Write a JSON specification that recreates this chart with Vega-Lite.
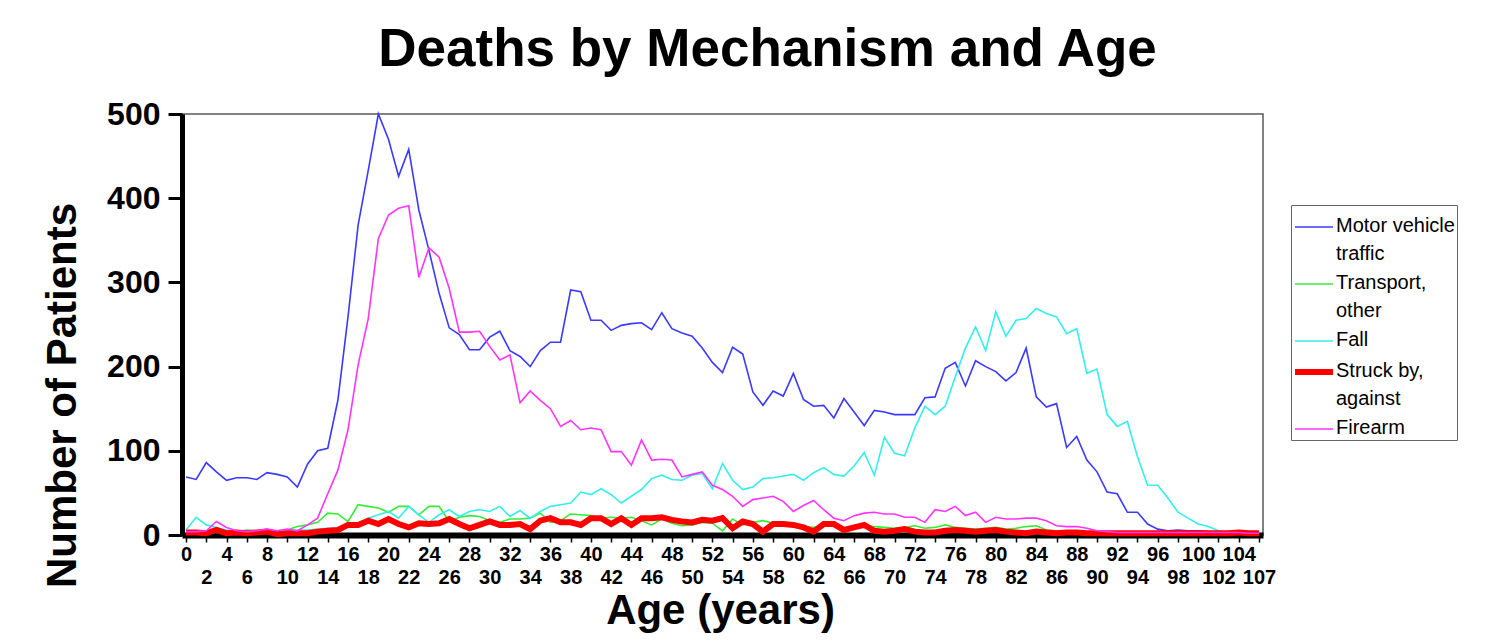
{
"$schema": "https://vega.github.io/schema/vega-lite/v6.json",
"width": 1081,
"height": 421,
"autosize": {"type": "none"},
"padding": {"left": 182, "top": 114, "right": 244, "bottom": 106},
"background": "white",
"title": {"text": "Deaths by Mechanism and Age", "font": "Liberation Sans", "fontSize": 53, "fontWeight": "bold", "color": "black", "anchor": "middle", "frame": "group", "dx": 45, "dy": 50, "offset": 29, "baseline": "alphabetic"},
"config": {
  "view": {"stroke": "#5a5a5a", "strokeWidth": 1.5},
  "axis": {"domainColor": "black", "tickColor": "black", "labelColor": "black", "titleColor": "black", "labelFont": "Liberation Sans", "titleFont": "Liberation Sans", "grid": false}
},
"datasets": {
"deaths": [
{"age":0,"mechanism":"Motor vehicle traffic","deaths":69},{"age":1,"mechanism":"Motor vehicle traffic","deaths":66},{"age":2,"mechanism":"Motor vehicle traffic","deaths":86},{"age":3,"mechanism":"Motor vehicle traffic","deaths":75},{"age":4,"mechanism":"Motor vehicle traffic","deaths":65},{"age":5,"mechanism":"Motor vehicle traffic","deaths":68},{"age":6,"mechanism":"Motor vehicle traffic","deaths":68},{"age":7,"mechanism":"Motor vehicle traffic","deaths":66},{"age":8,"mechanism":"Motor vehicle traffic","deaths":74},{"age":9,"mechanism":"Motor vehicle traffic","deaths":72},
{"age":10,"mechanism":"Motor vehicle traffic","deaths":69},{"age":11,"mechanism":"Motor vehicle traffic","deaths":57},{"age":12,"mechanism":"Motor vehicle traffic","deaths":84},{"age":13,"mechanism":"Motor vehicle traffic","deaths":100},{"age":14,"mechanism":"Motor vehicle traffic","deaths":103},{"age":15,"mechanism":"Motor vehicle traffic","deaths":160},{"age":16,"mechanism":"Motor vehicle traffic","deaths":259},{"age":17,"mechanism":"Motor vehicle traffic","deaths":368},{"age":18,"mechanism":"Motor vehicle traffic","deaths":433},{"age":19,"mechanism":"Motor vehicle traffic","deaths":500},
{"age":20,"mechanism":"Motor vehicle traffic","deaths":470},{"age":21,"mechanism":"Motor vehicle traffic","deaths":426},{"age":22,"mechanism":"Motor vehicle traffic","deaths":458},{"age":23,"mechanism":"Motor vehicle traffic","deaths":386},{"age":24,"mechanism":"Motor vehicle traffic","deaths":338},{"age":25,"mechanism":"Motor vehicle traffic","deaths":287},{"age":26,"mechanism":"Motor vehicle traffic","deaths":246},{"age":27,"mechanism":"Motor vehicle traffic","deaths":238},{"age":28,"mechanism":"Motor vehicle traffic","deaths":220},{"age":29,"mechanism":"Motor vehicle traffic","deaths":220},
{"age":30,"mechanism":"Motor vehicle traffic","deaths":235},{"age":31,"mechanism":"Motor vehicle traffic","deaths":242},{"age":32,"mechanism":"Motor vehicle traffic","deaths":219},{"age":33,"mechanism":"Motor vehicle traffic","deaths":212},{"age":34,"mechanism":"Motor vehicle traffic","deaths":200},{"age":35,"mechanism":"Motor vehicle traffic","deaths":219},{"age":36,"mechanism":"Motor vehicle traffic","deaths":229},{"age":37,"mechanism":"Motor vehicle traffic","deaths":229},{"age":38,"mechanism":"Motor vehicle traffic","deaths":291},{"age":39,"mechanism":"Motor vehicle traffic","deaths":289},
{"age":40,"mechanism":"Motor vehicle traffic","deaths":255},{"age":41,"mechanism":"Motor vehicle traffic","deaths":255},{"age":42,"mechanism":"Motor vehicle traffic","deaths":243},{"age":43,"mechanism":"Motor vehicle traffic","deaths":249},{"age":44,"mechanism":"Motor vehicle traffic","deaths":251},{"age":45,"mechanism":"Motor vehicle traffic","deaths":252},{"age":46,"mechanism":"Motor vehicle traffic","deaths":244},{"age":47,"mechanism":"Motor vehicle traffic","deaths":264},{"age":48,"mechanism":"Motor vehicle traffic","deaths":245},{"age":49,"mechanism":"Motor vehicle traffic","deaths":240},
{"age":50,"mechanism":"Motor vehicle traffic","deaths":236},{"age":51,"mechanism":"Motor vehicle traffic","deaths":222},{"age":52,"mechanism":"Motor vehicle traffic","deaths":205},{"age":53,"mechanism":"Motor vehicle traffic","deaths":193},{"age":54,"mechanism":"Motor vehicle traffic","deaths":223},{"age":55,"mechanism":"Motor vehicle traffic","deaths":215},{"age":56,"mechanism":"Motor vehicle traffic","deaths":170},{"age":57,"mechanism":"Motor vehicle traffic","deaths":154},{"age":58,"mechanism":"Motor vehicle traffic","deaths":171},{"age":59,"mechanism":"Motor vehicle traffic","deaths":165},
{"age":60,"mechanism":"Motor vehicle traffic","deaths":192},{"age":61,"mechanism":"Motor vehicle traffic","deaths":161},{"age":62,"mechanism":"Motor vehicle traffic","deaths":153},{"age":63,"mechanism":"Motor vehicle traffic","deaths":154},{"age":64,"mechanism":"Motor vehicle traffic","deaths":139},{"age":65,"mechanism":"Motor vehicle traffic","deaths":162},{"age":66,"mechanism":"Motor vehicle traffic","deaths":146},{"age":67,"mechanism":"Motor vehicle traffic","deaths":130},{"age":68,"mechanism":"Motor vehicle traffic","deaths":148},{"age":69,"mechanism":"Motor vehicle traffic","deaths":146},
{"age":70,"mechanism":"Motor vehicle traffic","deaths":143},{"age":71,"mechanism":"Motor vehicle traffic","deaths":143},{"age":72,"mechanism":"Motor vehicle traffic","deaths":143},{"age":73,"mechanism":"Motor vehicle traffic","deaths":163},{"age":74,"mechanism":"Motor vehicle traffic","deaths":164},{"age":75,"mechanism":"Motor vehicle traffic","deaths":198},{"age":76,"mechanism":"Motor vehicle traffic","deaths":205},{"age":77,"mechanism":"Motor vehicle traffic","deaths":177},{"age":78,"mechanism":"Motor vehicle traffic","deaths":207},{"age":79,"mechanism":"Motor vehicle traffic","deaths":200},
{"age":80,"mechanism":"Motor vehicle traffic","deaths":194},{"age":81,"mechanism":"Motor vehicle traffic","deaths":183},{"age":82,"mechanism":"Motor vehicle traffic","deaths":193},{"age":83,"mechanism":"Motor vehicle traffic","deaths":222},{"age":84,"mechanism":"Motor vehicle traffic","deaths":164},{"age":85,"mechanism":"Motor vehicle traffic","deaths":152},{"age":86,"mechanism":"Motor vehicle traffic","deaths":156},{"age":87,"mechanism":"Motor vehicle traffic","deaths":104},{"age":88,"mechanism":"Motor vehicle traffic","deaths":117},{"age":89,"mechanism":"Motor vehicle traffic","deaths":89},
{"age":90,"mechanism":"Motor vehicle traffic","deaths":75},{"age":91,"mechanism":"Motor vehicle traffic","deaths":51},{"age":92,"mechanism":"Motor vehicle traffic","deaths":49},{"age":93,"mechanism":"Motor vehicle traffic","deaths":27},{"age":94,"mechanism":"Motor vehicle traffic","deaths":27},{"age":95,"mechanism":"Motor vehicle traffic","deaths":13},{"age":96,"mechanism":"Motor vehicle traffic","deaths":7},{"age":97,"mechanism":"Motor vehicle traffic","deaths":5},{"age":98,"mechanism":"Motor vehicle traffic","deaths":6},{"age":99,"mechanism":"Motor vehicle traffic","deaths":5},
{"age":100,"mechanism":"Motor vehicle traffic","deaths":5},{"age":101,"mechanism":"Motor vehicle traffic","deaths":4},{"age":102,"mechanism":"Motor vehicle traffic","deaths":3},{"age":103,"mechanism":"Motor vehicle traffic","deaths":3},{"age":104,"mechanism":"Motor vehicle traffic","deaths":3},{"age":105,"mechanism":"Motor vehicle traffic","deaths":2},{"age":107,"mechanism":"Motor vehicle traffic","deaths":1},

{"age":0,"mechanism":"Transport, other","deaths":2},{"age":1,"mechanism":"Transport, other","deaths":3},{"age":2,"mechanism":"Transport, other","deaths":3},{"age":3,"mechanism":"Transport, other","deaths":3},{"age":4,"mechanism":"Transport, other","deaths":3},{"age":5,"mechanism":"Transport, other","deaths":4},{"age":6,"mechanism":"Transport, other","deaths":6},{"age":7,"mechanism":"Transport, other","deaths":5},{"age":8,"mechanism":"Transport, other","deaths":6},{"age":9,"mechanism":"Transport, other","deaths":5},
{"age":10,"mechanism":"Transport, other","deaths":6},{"age":11,"mechanism":"Transport, other","deaths":10},{"age":12,"mechanism":"Transport, other","deaths":12},{"age":13,"mechanism":"Transport, other","deaths":15},{"age":14,"mechanism":"Transport, other","deaths":26},{"age":15,"mechanism":"Transport, other","deaths":25},{"age":16,"mechanism":"Transport, other","deaths":16},{"age":17,"mechanism":"Transport, other","deaths":36},{"age":18,"mechanism":"Transport, other","deaths":34},{"age":19,"mechanism":"Transport, other","deaths":32},
{"age":20,"mechanism":"Transport, other","deaths":27},{"age":21,"mechanism":"Transport, other","deaths":34},{"age":22,"mechanism":"Transport, other","deaths":34},{"age":23,"mechanism":"Transport, other","deaths":24},{"age":24,"mechanism":"Transport, other","deaths":34},{"age":25,"mechanism":"Transport, other","deaths":34},{"age":26,"mechanism":"Transport, other","deaths":16},{"age":27,"mechanism":"Transport, other","deaths":21},{"age":28,"mechanism":"Transport, other","deaths":23},{"age":29,"mechanism":"Transport, other","deaths":22},
{"age":30,"mechanism":"Transport, other","deaths":17},{"age":31,"mechanism":"Transport, other","deaths":15},{"age":32,"mechanism":"Transport, other","deaths":19},{"age":33,"mechanism":"Transport, other","deaths":19},{"age":34,"mechanism":"Transport, other","deaths":20},{"age":35,"mechanism":"Transport, other","deaths":26},{"age":36,"mechanism":"Transport, other","deaths":15},{"age":37,"mechanism":"Transport, other","deaths":17},{"age":38,"mechanism":"Transport, other","deaths":25},{"age":39,"mechanism":"Transport, other","deaths":24},
{"age":40,"mechanism":"Transport, other","deaths":23},{"age":41,"mechanism":"Transport, other","deaths":20},{"age":42,"mechanism":"Transport, other","deaths":21},{"age":43,"mechanism":"Transport, other","deaths":20},{"age":44,"mechanism":"Transport, other","deaths":21},{"age":45,"mechanism":"Transport, other","deaths":17},{"age":46,"mechanism":"Transport, other","deaths":12},{"age":47,"mechanism":"Transport, other","deaths":19},{"age":48,"mechanism":"Transport, other","deaths":14},{"age":49,"mechanism":"Transport, other","deaths":11},
{"age":50,"mechanism":"Transport, other","deaths":12},{"age":51,"mechanism":"Transport, other","deaths":15},{"age":52,"mechanism":"Transport, other","deaths":14},{"age":53,"mechanism":"Transport, other","deaths":5},{"age":54,"mechanism":"Transport, other","deaths":19},{"age":55,"mechanism":"Transport, other","deaths":12},{"age":56,"mechanism":"Transport, other","deaths":15},{"age":57,"mechanism":"Transport, other","deaths":17},{"age":58,"mechanism":"Transport, other","deaths":14},{"age":59,"mechanism":"Transport, other","deaths":12},
{"age":60,"mechanism":"Transport, other","deaths":11},{"age":61,"mechanism":"Transport, other","deaths":10},{"age":62,"mechanism":"Transport, other","deaths":9},{"age":63,"mechanism":"Transport, other","deaths":10},{"age":64,"mechanism":"Transport, other","deaths":12},{"age":65,"mechanism":"Transport, other","deaths":6},{"age":66,"mechanism":"Transport, other","deaths":9},{"age":67,"mechanism":"Transport, other","deaths":11},{"age":68,"mechanism":"Transport, other","deaths":10},{"age":69,"mechanism":"Transport, other","deaths":9},
{"age":70,"mechanism":"Transport, other","deaths":8},{"age":71,"mechanism":"Transport, other","deaths":9},{"age":72,"mechanism":"Transport, other","deaths":11},{"age":73,"mechanism":"Transport, other","deaths":8},{"age":74,"mechanism":"Transport, other","deaths":9},{"age":75,"mechanism":"Transport, other","deaths":12},{"age":76,"mechanism":"Transport, other","deaths":9},{"age":77,"mechanism":"Transport, other","deaths":8},{"age":78,"mechanism":"Transport, other","deaths":7},{"age":79,"mechanism":"Transport, other","deaths":8},
{"age":80,"mechanism":"Transport, other","deaths":9},{"age":81,"mechanism":"Transport, other","deaths":7},{"age":82,"mechanism":"Transport, other","deaths":8},{"age":83,"mechanism":"Transport, other","deaths":10},{"age":84,"mechanism":"Transport, other","deaths":11},{"age":85,"mechanism":"Transport, other","deaths":6},{"age":86,"mechanism":"Transport, other","deaths":5},{"age":87,"mechanism":"Transport, other","deaths":4},{"age":88,"mechanism":"Transport, other","deaths":4},{"age":89,"mechanism":"Transport, other","deaths":3},
{"age":90,"mechanism":"Transport, other","deaths":2},{"age":91,"mechanism":"Transport, other","deaths":2},{"age":92,"mechanism":"Transport, other","deaths":2},{"age":93,"mechanism":"Transport, other","deaths":2},{"age":94,"mechanism":"Transport, other","deaths":2},{"age":95,"mechanism":"Transport, other","deaths":2},{"age":96,"mechanism":"Transport, other","deaths":2},{"age":97,"mechanism":"Transport, other","deaths":2},{"age":98,"mechanism":"Transport, other","deaths":2},{"age":99,"mechanism":"Transport, other","deaths":2},
{"age":100,"mechanism":"Transport, other","deaths":2},{"age":101,"mechanism":"Transport, other","deaths":2},{"age":102,"mechanism":"Transport, other","deaths":2},{"age":103,"mechanism":"Transport, other","deaths":2},{"age":104,"mechanism":"Transport, other","deaths":2},{"age":105,"mechanism":"Transport, other","deaths":1},{"age":107,"mechanism":"Transport, other","deaths":1},

{"age":0,"mechanism":"Fall","deaths":6},{"age":1,"mechanism":"Fall","deaths":21},{"age":2,"mechanism":"Fall","deaths":12},{"age":3,"mechanism":"Fall","deaths":9},{"age":4,"mechanism":"Fall","deaths":6},{"age":5,"mechanism":"Fall","deaths":4},{"age":6,"mechanism":"Fall","deaths":4},{"age":7,"mechanism":"Fall","deaths":4},{"age":8,"mechanism":"Fall","deaths":5},{"age":9,"mechanism":"Fall","deaths":4},
{"age":10,"mechanism":"Fall","deaths":5},{"age":11,"mechanism":"Fall","deaths":6},{"age":12,"mechanism":"Fall","deaths":6},{"age":13,"mechanism":"Fall","deaths":7},{"age":14,"mechanism":"Fall","deaths":8},{"age":15,"mechanism":"Fall","deaths":8},{"age":16,"mechanism":"Fall","deaths":10},{"age":17,"mechanism":"Fall","deaths":12},{"age":18,"mechanism":"Fall","deaths":20},{"age":19,"mechanism":"Fall","deaths":24},
{"age":20,"mechanism":"Fall","deaths":28},{"age":21,"mechanism":"Fall","deaths":20},{"age":22,"mechanism":"Fall","deaths":34},{"age":23,"mechanism":"Fall","deaths":24},{"age":24,"mechanism":"Fall","deaths":15},{"age":25,"mechanism":"Fall","deaths":24},{"age":26,"mechanism":"Fall","deaths":30},{"age":27,"mechanism":"Fall","deaths":22},{"age":28,"mechanism":"Fall","deaths":28},{"age":29,"mechanism":"Fall","deaths":30},
{"age":30,"mechanism":"Fall","deaths":28},{"age":31,"mechanism":"Fall","deaths":34},{"age":32,"mechanism":"Fall","deaths":22},{"age":33,"mechanism":"Fall","deaths":29},{"age":34,"mechanism":"Fall","deaths":20},{"age":35,"mechanism":"Fall","deaths":28},{"age":36,"mechanism":"Fall","deaths":34},{"age":37,"mechanism":"Fall","deaths":36},{"age":38,"mechanism":"Fall","deaths":38},{"age":39,"mechanism":"Fall","deaths":51},
{"age":40,"mechanism":"Fall","deaths":48},{"age":41,"mechanism":"Fall","deaths":55},{"age":42,"mechanism":"Fall","deaths":48},{"age":43,"mechanism":"Fall","deaths":38},{"age":44,"mechanism":"Fall","deaths":46},{"age":45,"mechanism":"Fall","deaths":54},{"age":46,"mechanism":"Fall","deaths":67},{"age":47,"mechanism":"Fall","deaths":71},{"age":48,"mechanism":"Fall","deaths":66},{"age":49,"mechanism":"Fall","deaths":65},
{"age":50,"mechanism":"Fall","deaths":71},{"age":51,"mechanism":"Fall","deaths":73},{"age":52,"mechanism":"Fall","deaths":55},{"age":53,"mechanism":"Fall","deaths":85},{"age":54,"mechanism":"Fall","deaths":65},{"age":55,"mechanism":"Fall","deaths":54},{"age":56,"mechanism":"Fall","deaths":57},{"age":57,"mechanism":"Fall","deaths":67},{"age":58,"mechanism":"Fall","deaths":68},{"age":59,"mechanism":"Fall","deaths":70},
{"age":60,"mechanism":"Fall","deaths":72},{"age":61,"mechanism":"Fall","deaths":65},{"age":62,"mechanism":"Fall","deaths":74},{"age":63,"mechanism":"Fall","deaths":80},{"age":64,"mechanism":"Fall","deaths":72},{"age":65,"mechanism":"Fall","deaths":70},{"age":66,"mechanism":"Fall","deaths":82},{"age":67,"mechanism":"Fall","deaths":98},{"age":68,"mechanism":"Fall","deaths":71},{"age":69,"mechanism":"Fall","deaths":116},
{"age":70,"mechanism":"Fall","deaths":97},{"age":71,"mechanism":"Fall","deaths":94},{"age":72,"mechanism":"Fall","deaths":127},{"age":73,"mechanism":"Fall","deaths":153},{"age":74,"mechanism":"Fall","deaths":143},{"age":75,"mechanism":"Fall","deaths":153},{"age":76,"mechanism":"Fall","deaths":188},{"age":77,"mechanism":"Fall","deaths":222},{"age":78,"mechanism":"Fall","deaths":247},{"age":79,"mechanism":"Fall","deaths":219},
{"age":80,"mechanism":"Fall","deaths":265},{"age":81,"mechanism":"Fall","deaths":236},{"age":82,"mechanism":"Fall","deaths":255},{"age":83,"mechanism":"Fall","deaths":257},{"age":84,"mechanism":"Fall","deaths":269},{"age":85,"mechanism":"Fall","deaths":263},{"age":86,"mechanism":"Fall","deaths":259},{"age":87,"mechanism":"Fall","deaths":239},{"age":88,"mechanism":"Fall","deaths":245},{"age":89,"mechanism":"Fall","deaths":192},
{"age":90,"mechanism":"Fall","deaths":197},{"age":91,"mechanism":"Fall","deaths":143},{"age":92,"mechanism":"Fall","deaths":129},{"age":93,"mechanism":"Fall","deaths":135},{"age":94,"mechanism":"Fall","deaths":93},{"age":95,"mechanism":"Fall","deaths":59},{"age":96,"mechanism":"Fall","deaths":59},{"age":97,"mechanism":"Fall","deaths":44},{"age":98,"mechanism":"Fall","deaths":27},{"age":99,"mechanism":"Fall","deaths":20},
{"age":100,"mechanism":"Fall","deaths":13},{"age":101,"mechanism":"Fall","deaths":10},{"age":102,"mechanism":"Fall","deaths":5},{"age":103,"mechanism":"Fall","deaths":3},{"age":104,"mechanism":"Fall","deaths":3},{"age":105,"mechanism":"Fall","deaths":2},{"age":107,"mechanism":"Fall","deaths":1},

{"age":0,"mechanism":"Struck by, against","deaths":3},{"age":1,"mechanism":"Struck by, against","deaths":3},{"age":2,"mechanism":"Struck by, against","deaths":2},{"age":3,"mechanism":"Struck by, against","deaths":6},{"age":4,"mechanism":"Struck by, against","deaths":2},{"age":5,"mechanism":"Struck by, against","deaths":3},{"age":6,"mechanism":"Struck by, against","deaths":2},{"age":7,"mechanism":"Struck by, against","deaths":3},{"age":8,"mechanism":"Struck by, against","deaths":4},{"age":9,"mechanism":"Struck by, against","deaths":1},
{"age":10,"mechanism":"Struck by, against","deaths":2},{"age":11,"mechanism":"Struck by, against","deaths":2},{"age":12,"mechanism":"Struck by, against","deaths":2},{"age":13,"mechanism":"Struck by, against","deaths":4},{"age":14,"mechanism":"Struck by, against","deaths":5},{"age":15,"mechanism":"Struck by, against","deaths":6},{"age":16,"mechanism":"Struck by, against","deaths":12},{"age":17,"mechanism":"Struck by, against","deaths":12},{"age":18,"mechanism":"Struck by, against","deaths":17},{"age":19,"mechanism":"Struck by, against","deaths":13},
{"age":20,"mechanism":"Struck by, against","deaths":19},{"age":21,"mechanism":"Struck by, against","deaths":13},{"age":22,"mechanism":"Struck by, against","deaths":9},{"age":23,"mechanism":"Struck by, against","deaths":14},{"age":24,"mechanism":"Struck by, against","deaths":13},{"age":25,"mechanism":"Struck by, against","deaths":14},{"age":26,"mechanism":"Struck by, against","deaths":19},{"age":27,"mechanism":"Struck by, against","deaths":13},{"age":28,"mechanism":"Struck by, against","deaths":8},{"age":29,"mechanism":"Struck by, against","deaths":12},
{"age":30,"mechanism":"Struck by, against","deaths":16},{"age":31,"mechanism":"Struck by, against","deaths":12},{"age":32,"mechanism":"Struck by, against","deaths":12},{"age":33,"mechanism":"Struck by, against","deaths":13},{"age":34,"mechanism":"Struck by, against","deaths":7},{"age":35,"mechanism":"Struck by, against","deaths":17},{"age":36,"mechanism":"Struck by, against","deaths":20},{"age":37,"mechanism":"Struck by, against","deaths":15},{"age":38,"mechanism":"Struck by, against","deaths":15},{"age":39,"mechanism":"Struck by, against","deaths":12},
{"age":40,"mechanism":"Struck by, against","deaths":20},{"age":41,"mechanism":"Struck by, against","deaths":20},{"age":42,"mechanism":"Struck by, against","deaths":13},{"age":43,"mechanism":"Struck by, against","deaths":20},{"age":44,"mechanism":"Struck by, against","deaths":12},{"age":45,"mechanism":"Struck by, against","deaths":20},{"age":46,"mechanism":"Struck by, against","deaths":20},{"age":47,"mechanism":"Struck by, against","deaths":21},{"age":48,"mechanism":"Struck by, against","deaths":18},{"age":49,"mechanism":"Struck by, against","deaths":16},
{"age":50,"mechanism":"Struck by, against","deaths":15},{"age":51,"mechanism":"Struck by, against","deaths":18},{"age":52,"mechanism":"Struck by, against","deaths":17},{"age":53,"mechanism":"Struck by, against","deaths":20},{"age":54,"mechanism":"Struck by, against","deaths":8},{"age":55,"mechanism":"Struck by, against","deaths":16},{"age":56,"mechanism":"Struck by, against","deaths":13},{"age":57,"mechanism":"Struck by, against","deaths":4},{"age":58,"mechanism":"Struck by, against","deaths":13},{"age":59,"mechanism":"Struck by, against","deaths":13},
{"age":60,"mechanism":"Struck by, against","deaths":12},{"age":61,"mechanism":"Struck by, against","deaths":9},{"age":62,"mechanism":"Struck by, against","deaths":4},{"age":63,"mechanism":"Struck by, against","deaths":13},{"age":64,"mechanism":"Struck by, against","deaths":13},{"age":65,"mechanism":"Struck by, against","deaths":6},{"age":66,"mechanism":"Struck by, against","deaths":9},{"age":67,"mechanism":"Struck by, against","deaths":12},{"age":68,"mechanism":"Struck by, against","deaths":5},{"age":69,"mechanism":"Struck by, against","deaths":4},
{"age":70,"mechanism":"Struck by, against","deaths":5},{"age":71,"mechanism":"Struck by, against","deaths":7},{"age":72,"mechanism":"Struck by, against","deaths":4},{"age":73,"mechanism":"Struck by, against","deaths":3},{"age":74,"mechanism":"Struck by, against","deaths":3},{"age":75,"mechanism":"Struck by, against","deaths":5},{"age":76,"mechanism":"Struck by, against","deaths":6},{"age":77,"mechanism":"Struck by, against","deaths":5},{"age":78,"mechanism":"Struck by, against","deaths":4},{"age":79,"mechanism":"Struck by, against","deaths":5},
{"age":80,"mechanism":"Struck by, against","deaths":6},{"age":81,"mechanism":"Struck by, against","deaths":4},{"age":82,"mechanism":"Struck by, against","deaths":3},{"age":83,"mechanism":"Struck by, against","deaths":2},{"age":84,"mechanism":"Struck by, against","deaths":4},{"age":85,"mechanism":"Struck by, against","deaths":3},{"age":86,"mechanism":"Struck by, against","deaths":2},{"age":87,"mechanism":"Struck by, against","deaths":3},{"age":88,"mechanism":"Struck by, against","deaths":3},{"age":89,"mechanism":"Struck by, against","deaths":2},
{"age":90,"mechanism":"Struck by, against","deaths":2},{"age":91,"mechanism":"Struck by, against","deaths":2},{"age":92,"mechanism":"Struck by, against","deaths":2},{"age":93,"mechanism":"Struck by, against","deaths":2},{"age":94,"mechanism":"Struck by, against","deaths":2},{"age":95,"mechanism":"Struck by, against","deaths":2},{"age":96,"mechanism":"Struck by, against","deaths":2},{"age":97,"mechanism":"Struck by, against","deaths":2},{"age":98,"mechanism":"Struck by, against","deaths":2},{"age":99,"mechanism":"Struck by, against","deaths":2},
{"age":100,"mechanism":"Struck by, against","deaths":2},{"age":101,"mechanism":"Struck by, against","deaths":2},{"age":102,"mechanism":"Struck by, against","deaths":2},{"age":103,"mechanism":"Struck by, against","deaths":2},{"age":104,"mechanism":"Struck by, against","deaths":3},{"age":105,"mechanism":"Struck by, against","deaths":2},{"age":107,"mechanism":"Struck by, against","deaths":2},

{"age":0,"mechanism":"Firearm","deaths":4},{"age":1,"mechanism":"Firearm","deaths":4},{"age":2,"mechanism":"Firearm","deaths":5},{"age":3,"mechanism":"Firearm","deaths":16},{"age":4,"mechanism":"Firearm","deaths":9},{"age":5,"mechanism":"Firearm","deaths":5},{"age":6,"mechanism":"Firearm","deaths":4},{"age":7,"mechanism":"Firearm","deaths":5},{"age":8,"mechanism":"Firearm","deaths":7},{"age":9,"mechanism":"Firearm","deaths":5},
{"age":10,"mechanism":"Firearm","deaths":7},{"age":11,"mechanism":"Firearm","deaths":5},{"age":12,"mechanism":"Firearm","deaths":12},{"age":13,"mechanism":"Firearm","deaths":20},{"age":14,"mechanism":"Firearm","deaths":49},{"age":15,"mechanism":"Firearm","deaths":77},{"age":16,"mechanism":"Firearm","deaths":125},{"age":17,"mechanism":"Firearm","deaths":202},{"age":18,"mechanism":"Firearm","deaths":257},{"age":19,"mechanism":"Firearm","deaths":352},
{"age":20,"mechanism":"Firearm","deaths":380},{"age":21,"mechanism":"Firearm","deaths":388},{"age":22,"mechanism":"Firearm","deaths":391},{"age":23,"mechanism":"Firearm","deaths":306},{"age":24,"mechanism":"Firearm","deaths":341},{"age":25,"mechanism":"Firearm","deaths":330},{"age":26,"mechanism":"Firearm","deaths":293},{"age":27,"mechanism":"Firearm","deaths":241},{"age":28,"mechanism":"Firearm","deaths":241},{"age":29,"mechanism":"Firearm","deaths":242},
{"age":30,"mechanism":"Firearm","deaths":224},{"age":31,"mechanism":"Firearm","deaths":208},{"age":32,"mechanism":"Firearm","deaths":214},{"age":33,"mechanism":"Firearm","deaths":157},{"age":34,"mechanism":"Firearm","deaths":171},{"age":35,"mechanism":"Firearm","deaths":160},{"age":36,"mechanism":"Firearm","deaths":150},{"age":37,"mechanism":"Firearm","deaths":129},{"age":38,"mechanism":"Firearm","deaths":136},{"age":39,"mechanism":"Firearm","deaths":125},
{"age":40,"mechanism":"Firearm","deaths":127},{"age":41,"mechanism":"Firearm","deaths":125},{"age":42,"mechanism":"Firearm","deaths":99},{"age":43,"mechanism":"Firearm","deaths":99},{"age":44,"mechanism":"Firearm","deaths":83},{"age":45,"mechanism":"Firearm","deaths":113},{"age":46,"mechanism":"Firearm","deaths":89},{"age":47,"mechanism":"Firearm","deaths":90},{"age":48,"mechanism":"Firearm","deaths":89},{"age":49,"mechanism":"Firearm","deaths":69},
{"age":50,"mechanism":"Firearm","deaths":72},{"age":51,"mechanism":"Firearm","deaths":75},{"age":52,"mechanism":"Firearm","deaths":59},{"age":53,"mechanism":"Firearm","deaths":54},{"age":54,"mechanism":"Firearm","deaths":46},{"age":55,"mechanism":"Firearm","deaths":34},{"age":56,"mechanism":"Firearm","deaths":42},{"age":57,"mechanism":"Firearm","deaths":44},{"age":58,"mechanism":"Firearm","deaths":46},{"age":59,"mechanism":"Firearm","deaths":40},
{"age":60,"mechanism":"Firearm","deaths":28},{"age":61,"mechanism":"Firearm","deaths":35},{"age":62,"mechanism":"Firearm","deaths":41},{"age":63,"mechanism":"Firearm","deaths":30},{"age":64,"mechanism":"Firearm","deaths":20},{"age":65,"mechanism":"Firearm","deaths":17},{"age":66,"mechanism":"Firearm","deaths":23},{"age":67,"mechanism":"Firearm","deaths":26},{"age":68,"mechanism":"Firearm","deaths":27},{"age":69,"mechanism":"Firearm","deaths":25},
{"age":70,"mechanism":"Firearm","deaths":25},{"age":71,"mechanism":"Firearm","deaths":21},{"age":72,"mechanism":"Firearm","deaths":21},{"age":73,"mechanism":"Firearm","deaths":15},{"age":74,"mechanism":"Firearm","deaths":30},{"age":75,"mechanism":"Firearm","deaths":28},{"age":76,"mechanism":"Firearm","deaths":34},{"age":77,"mechanism":"Firearm","deaths":23},{"age":78,"mechanism":"Firearm","deaths":27},{"age":79,"mechanism":"Firearm","deaths":15},
{"age":80,"mechanism":"Firearm","deaths":21},{"age":81,"mechanism":"Firearm","deaths":19},{"age":82,"mechanism":"Firearm","deaths":19},{"age":83,"mechanism":"Firearm","deaths":20},{"age":84,"mechanism":"Firearm","deaths":20},{"age":85,"mechanism":"Firearm","deaths":17},{"age":86,"mechanism":"Firearm","deaths":11},{"age":87,"mechanism":"Firearm","deaths":10},{"age":88,"mechanism":"Firearm","deaths":10},{"age":89,"mechanism":"Firearm","deaths":8},
{"age":90,"mechanism":"Firearm","deaths":5},{"age":91,"mechanism":"Firearm","deaths":4},{"age":92,"mechanism":"Firearm","deaths":3},{"age":93,"mechanism":"Firearm","deaths":3},{"age":94,"mechanism":"Firearm","deaths":3},{"age":95,"mechanism":"Firearm","deaths":3},{"age":96,"mechanism":"Firearm","deaths":3},{"age":97,"mechanism":"Firearm","deaths":3},{"age":98,"mechanism":"Firearm","deaths":3},{"age":99,"mechanism":"Firearm","deaths":3},
{"age":100,"mechanism":"Firearm","deaths":3},{"age":101,"mechanism":"Firearm","deaths":3},{"age":102,"mechanism":"Firearm","deaths":3},{"age":103,"mechanism":"Firearm","deaths":3},{"age":104,"mechanism":"Firearm","deaths":3},{"age":105,"mechanism":"Firearm","deaths":2},{"age":107,"mechanism":"Firearm","deaths":2}
]
},
"data": {"name": "deaths"},
"mark": {"type": "line", "strokeJoin": "miter"},
"encoding": {
  "x": {
    "field": "age", "type": "ordinal", "sort": "ascending",
    "scale": {"type": "point", "padding": 0.4},
    "axis": {
      "values": [0,2,4,6,8,10,12,14,16,18,20,22,24,26,28,30,32,34,36,38,40,42,44,46,48,50,52,54,56,58,60,62,64,66,68,70,72,74,76,78,80,82,84,86,88,90,92,94,96,98,100,102,104,107],
      "labelExpr": "datum.value % 4 == 0 ? datum.label : ['', datum.label]",
      "labelAngle": 0, "labelFontSize": 20, "labelFontWeight": "bold", "labelLineHeight": 23,
      "labelOverlap": false, "labelPadding": 2, "labelBaseline": "top",
      "tickSize": 7, "tickWidth": 1.5, "domainWidth": 6,
      "title": "Age (years)", "titleFontSize": 42, "titleFontWeight": "bold",
      "titleX": 538, "titleY": 88, "titleBaseline": "alphabetic", "titleAnchor": "middle"
    }
  },
  "y": {
    "field": "deaths", "type": "quantitative",
    "scale": {"domain": [0, 500], "nice": false},
    "axis": {
      "values": [0,100,200,300,400,500],
      "labelFontSize": 32, "labelFontWeight": "bold", "labelPadding": 8,
      "tickSize": 14, "tickWidth": 3, "domainWidth": 5,
      "title": "Number of Patients", "titleFontSize": 42, "titleFontWeight": "bold",
      "titleX": -107, "titleY": 281, "titleBaseline": "alphabetic", "titleAngle": -90, "titleAnchor": "middle"
    }
  },
  "color": {
    "field": "mechanism", "type": "nominal",
    "sort": ["Motor vehicle traffic", "Transport, other", "Fall", "Struck by, against", "Firearm"],
    "scale": {"domain": ["Motor vehicle traffic", "Transport, other", "Fall", "Struck by, against", "Firearm"], "range": ["#3a3aff", "#33ee33", "#33eeee", "#ff0000", "#ff33ff"]},
    "legend": {
      "title": null, "orient": "none", "legendX": 1109, "legendY": 91,
      "symbolType": "stroke", "symbolSize": 1444, "symbolOffset": -1,
      "labelFont": "Liberation Sans", "labelFontSize": 20, "labelColor": "black", "labelLimit": 400, "labelOffset": 0,
      "labelBaseline": "top",
      "labelExpr": "datum.label == 'Motor vehicle traffic' ? ['Motor vehicle', 'traffic'] : datum.label == 'Transport, other' ? ['Transport,', 'other'] : datum.label == 'Struck by, against' ? ['Struck by,', 'against'] : datum.label",
      "padding": 2, "rowPadding": -3, "strokeColor": "#666666", "fillColor": "white",
      "encode": {"labels": {"update": {"dy": {"value": -11}, "lineHeight": {"value": 28}}}}
    }
  },
  "strokeWidth": {
    "field": "mechanism", "type": "nominal",
    "sort": ["Motor vehicle traffic", "Transport, other", "Fall", "Struck by, against", "Firearm"],
    "scale": {"type": "ordinal", "domain": ["Motor vehicle traffic", "Transport, other", "Fall", "Struck by, against", "Firearm"], "range": [1.6, 1.6, 1.6, 6, 1.6]},
    "legend": {
      "title": null, "orient": "none", "legendX": 1109, "legendY": 91,
      "symbolType": "stroke", "symbolSize": 1444, "symbolOffset": -1,
      "labelFont": "Liberation Sans", "labelFontSize": 20, "labelColor": "black", "labelLimit": 400, "labelOffset": 0,
      "labelBaseline": "top",
      "labelExpr": "datum.label == 'Motor vehicle traffic' ? ['Motor vehicle', 'traffic'] : datum.label == 'Transport, other' ? ['Transport,', 'other'] : datum.label == 'Struck by, against' ? ['Struck by,', 'against'] : datum.label",
      "padding": 2, "rowPadding": -3, "strokeColor": "#666666", "fillColor": "white",
      "encode": {"labels": {"update": {"dy": {"value": -11}, "lineHeight": {"value": 28}}}}
    }
  }
}
}
